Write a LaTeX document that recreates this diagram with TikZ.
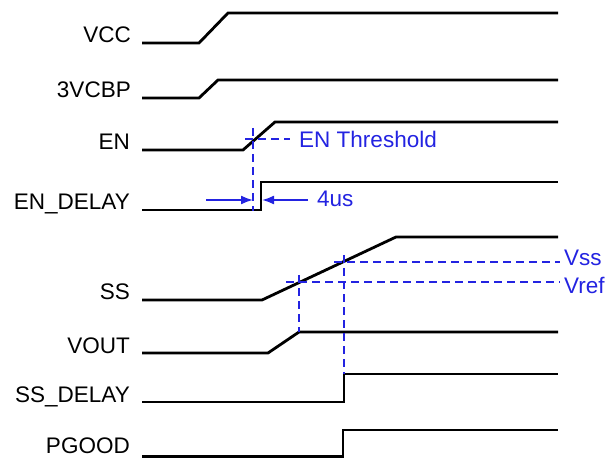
\documentclass[tikz,border=0pt]{standalone}
\usepackage{fontspec}
\setmainfont{Liberation Sans}
\usetikzlibrary{arrows.meta}
\definecolor{dimblue}{RGB}{35,35,225}
\begin{document}
\begin{tikzpicture}[x=1bp,y=-1bp,
  sig/.style={line width=2.8bp, line join=miter},
  lbl/.style={anchor=base east, inner sep=0pt, font=\fontsize{22.6}{27}\selectfont},
  guide/.style={dimblue, line width=1.8bp, dash pattern=on 8bp off 5bp},
  bltext/.style={anchor=west, inner sep=0pt, text=dimblue, font=\fontsize{22.6}{27}\selectfont},
  arr/.style={dimblue, line width=1.8bp, -{Latex[length=12bp,width=9bp]}}
]
\useasboundingbox (0,0) rectangle (609,458);

% labels
\node[lbl] (lvcc)  at (131,43)  {VCC};
\node[lbl] (lvcbp) at (131,98)  {3VCBP};
\node[lbl] (len)   at (130,150) {EN};
\node[lbl] (lend)  at (130,210) {EN\_DELAY};
\node[lbl] (lss)   at (130,300) {SS};
\node[lbl] (lvout) at (130,353) {VOUT};
\node[lbl] (lssd)  at (130,402) {SS\_DELAY};
\node[lbl] (lpg)   at (130,453.5) {PGOOD};

% waveforms
\draw[sig] (142,43)  -- (199,43)  -- (228,13)  -- (558,13);
\draw[sig] (142,98)  -- (199,98)  -- (218,80)  -- (558,80);
\draw[sig] (142,150) -- (243,150) -- (275,122) -- (558,122);
\draw[sig] (142,210) -- (261,210) -- (261,182) -- (558,182);
\draw[sig] (142,300) -- (262,300) -- (396,237) -- (558,237);
\draw[sig] (142,353) -- (268,353) -- (299,332) -- (558,332);
\draw[sig] (142,402) -- (344,402) -- (344,374) -- (558,374);
\draw[sig] (142,456.5) -- (343,456.5) -- (343,430) -- (558,430);

% EN threshold
\coordinate (thtop) at (253,128);
\coordinate (thbot) at (253,211);
\draw[guide] (thtop) -- (thbot);
\coordinate (thl) at (245,139);
\node[bltext] (thr) at (299,139) {EN Threshold};
\draw[guide] (thl) -- (290,139);

% 4us delay arrows
\coordinate (a1s) at (206,200);
\coordinate (a1e) at (253,200);
\coordinate (a2s) at (308,200);
\coordinate (a2e) at (262,200);
\draw[arr] (a1s) -- (a1e);
\draw[arr] (a2s) -- (a2e);
\node[bltext] (dly) at (317,199) {4us};

% Vss / Vref
\node[bltext] (vss)  at (564,258) {Vss};
\node[bltext] (vref) at (564,285) {Vref};
\coordinate (vssl)  at (334,262);
\coordinate (vrefl) at (286,282);
\draw[guide] (vssl) -- (560,262);
\draw[guide] (vrefl) -- (560,282);
\draw[guide] (299,275) -- (299,332);
\draw[guide] (344,255) -- (344,374);
\end{tikzpicture}
\end{document}
